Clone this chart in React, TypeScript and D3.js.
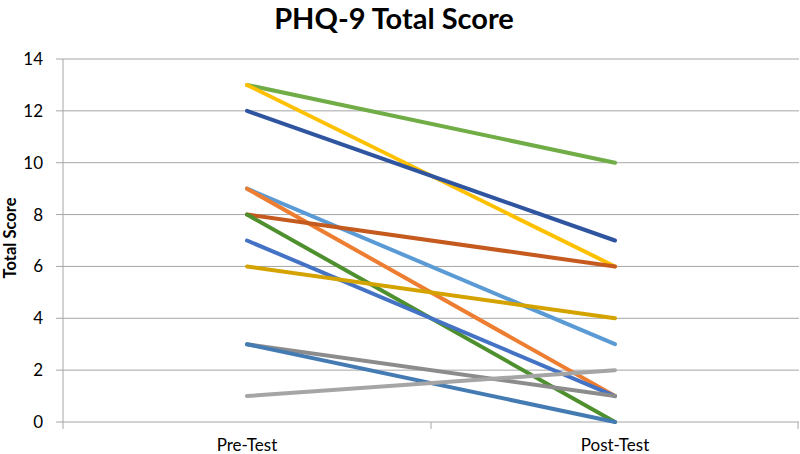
import React from 'react'
import * as d3 from 'd3'

// two time points, one line per participant
const phases = ['Pre-Test', 'Post-Test']
const preScores = [13, 13, 12, 9, 9, 8, 8, 7, 6, 3, 3, 1]
const postScores = [10, 6, 7, 3, 1, 6, 0, 1, 4, 1, 0, 2]
const lineColors = ['#70AD47', '#FFC000', '#2F55A0', '#5B9BD5', '#ED7D31', '#C55A1E',
  '#4E8F2E', '#4472C4', '#D4A300', '#8C8C8C', '#457BB3', '#A5A5A5']
const yTicks = [0, 2, 4, 6, 8, 10, 12, 14]

const W = 800
const H = 454
const left = 63
const right = 799
const top = 59
const bottom = 422

function App() {
  const x = d3.scaleBand().domain(phases).range([left, right])
  const y = d3.scaleLinear().domain([0, 14]).range([bottom, top])
  const line = d3.line<number>()
    .x((d, i) => x(phases[i])! + x.bandwidth() / 2)
    .y(d => y(d))
  const font = 'Lato, sans-serif'

  return (
    <svg width={W} height={H} style={{ position: 'absolute', left: 0, top: 0, background: '#fff' }}>
      <text x={394} y={29} textAnchor="middle" fontFamily={font} fontWeight="bold" fontSize={29} fill="#000">PHQ-9 Total Score</text>

      <g className="grid">
        {yTicks.map(t => (
          <g key={t}>
            <line x1={left - 7} x2={right} y1={y(t)} y2={y(t)} stroke="#A6A6A6" strokeWidth={1} />
            <text x={left - 20} y={y(t) + 6} textAnchor="end" fontFamily={font} fontSize={17} fill="#000">{t}</text>
          </g>
        ))}
        <line x1={left} x2={left} y1={top} y2={bottom} stroke="#A6A6A6" />
        {[left, left + x.bandwidth(), right - 1].map((v, i) => (
          <line key={i} x1={v} x2={v} y1={bottom} y2={bottom + 7} stroke="#A6A6A6" />
        ))}
      </g>

      <g className="lines">
        {preScores.map((p, i) => (
          <path key={i} d={line([p, postScores[i]])!} fill="none" stroke={lineColors[i]}
            strokeWidth={4} strokeLinecap="round" />
        ))}
      </g>

      {phases.map(p => (
        <text key={p} x={x(p)! + x.bandwidth() / 2} y={451} textAnchor="middle" fontFamily={font} fontSize={17} fill="#000">{p}</text>
      ))}

      <text transform={`translate(16,238) rotate(-90)`} textAnchor="middle"
        fontFamily={font} fontWeight="bold" fontSize={16.5} fill="#000">Total Score</text>
    </svg>
  )
}

export default App
